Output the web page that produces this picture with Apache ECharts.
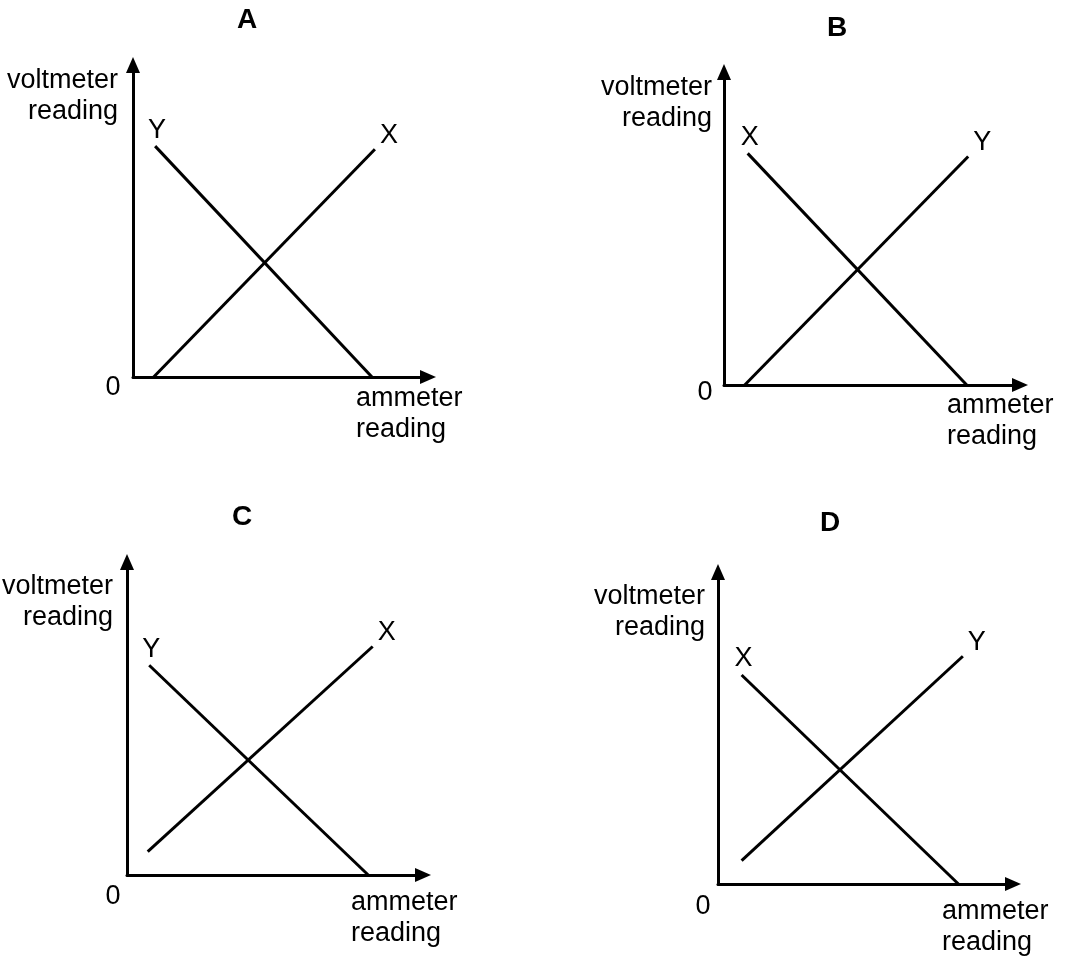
<!DOCTYPE html>
<html>
<head>
<meta charset="utf-8">
<script src="https://cdn.jsdelivr.net/npm/echarts@6/dist/echarts.min.js"></script>
<style>
html,body{margin:0;padding:0;background:#fff}
#chart{width:1081px;height:962px}
</style>
</head>
<body>
<div id="chart"></div>
<script>
// panel names, axis range (arbitrary units, 0 .. arrow)
const PANELS = ['A', 'B', 'C', 'D'];
const AXIS_MAX = 10;
const X_NAME = 'ammeter\nreading';
const Y_NAME = 'voltmeter\nreading';

// end points [ammeter, voltmeter] of the X and Y lines in each panel
const LINE_X = [
    [[0.7, 0], [8.2, 7.3]],
    [[0.8, 7.4], [8.2, 0]],
    [[0.7, 0.75], [8.3, 7.3]],
    [[0.8, 6.7], [8.15, 0]]
];
const LINE_Y = [
    [[0.75, 7.4], [8.1, 0]],
    [[0.7, 0], [8.25, 7.3]],
    [[0.75, 6.7], [8.15, 0]],
    [[0.8, 0.75], [8.3, 7.3]]
];

// layout (px)
const GRID_BOX = [[133, 65, 295, 312], [724, 72, 296, 313], [127, 562, 296, 313], [718, 572, 295, 312]];
const TITLE_POS = [[247, 20], [837, 28], [242, 517], [830, 523]];
const YNAME_POS = [[118, 96], [712, 103], [113, 602], [705, 612]];
const XNAME_POS = [[356, 414], [947, 421], [351, 918], [942, 927]];
const ZERO_POS = [[113, 388], [705, 393], [113, 897], [703, 907]];

const FAMILY = '"Liberation Sans", Arial, Helvetica, sans-serif';
const FONT = '27px ' + FAMILY;

const chart = echarts.init(document.getElementById('chart'));

function makeAxis(i) {
    return {
        type: 'value',
        gridIndex: i,
        min: 0,
        max: AXIS_MAX,
        axisLine: {
            show: true,
            onZero: false,
            symbol: ['none', 'triangle'],
            symbolSize: [14, 16],
            lineStyle: {color: '#000', width: 3}
        },
        axisTick: {show: false},
        axisLabel: {show: false},
        splitLine: {show: false}
    };
}

function makeLine(name, data, i) {
    return {
        type: 'line',
        name: name,
        data: data,
        xAxisIndex: i,
        yAxisIndex: i,
        symbol: 'none',
        silent: true,
        lineStyle: {color: '#000', width: 3}
    };
}

const series = [];
PANELS.forEach(function (p, i) {
    series.push(makeLine('X', LINE_X[i], i));
    series.push(makeLine('Y', LINE_Y[i], i));
});

chart.setOption({
    animation: false,
    backgroundColor: '#fff',
    grid: GRID_BOX.map(function (b) {
        return {left: b[0], top: b[1], width: b[2], height: b[3]};
    }),
    xAxis: PANELS.map(function (p, i) { return makeAxis(i); }),
    yAxis: PANELS.map(function (p, i) { return makeAxis(i); }),
    series: series
});

// texts
const texts = [];
PANELS.forEach(function (p, i) {
    texts.push({type: 'text', x: TITLE_POS[i][0], y: TITLE_POS[i][1],
        style: {text: p, font: 'bold 28px ' + FAMILY, fill: '#000', textAlign: 'center', textVerticalAlign: 'middle'}});
    texts.push({type: 'text', x: YNAME_POS[i][0], y: YNAME_POS[i][1],
        style: {text: Y_NAME, font: FONT, lineHeight: 31, fill: '#000', textAlign: 'right', textVerticalAlign: 'middle'}});
    texts.push({type: 'text', x: XNAME_POS[i][0], y: XNAME_POS[i][1],
        style: {text: X_NAME, font: FONT, lineHeight: 31, fill: '#000', textAlign: 'left', textVerticalAlign: 'middle'}});
    texts.push({type: 'text', x: ZERO_POS[i][0], y: ZERO_POS[i][1],
        style: {text: '0', font: FONT, fill: '#000', textAlign: 'center', textVerticalAlign: 'middle'}});

    // line name at the upper end of each line
    [['X', LINE_X[i]], ['Y', LINE_Y[i]]].forEach(function (l) {
        const pts = l[1];
        const top = pts[0][1] > pts[1][1] ? pts[0] : pts[1];
        const other = top === pts[0] ? pts[1] : pts[0];
        const pos = chart.convertToPixel({gridIndex: i}, top);
        const rising = top[0] > other[0];
        texts.push({type: 'text', x: pos[0] + (rising ? 14 : 2), y: pos[1] + (rising ? -14 : -16),
            style: {text: l[0], font: FONT, fill: '#000', textAlign: 'center', textVerticalAlign: 'middle'}});
    });
});

chart.setOption({graphic: texts});
</script>
</body>
</html>
